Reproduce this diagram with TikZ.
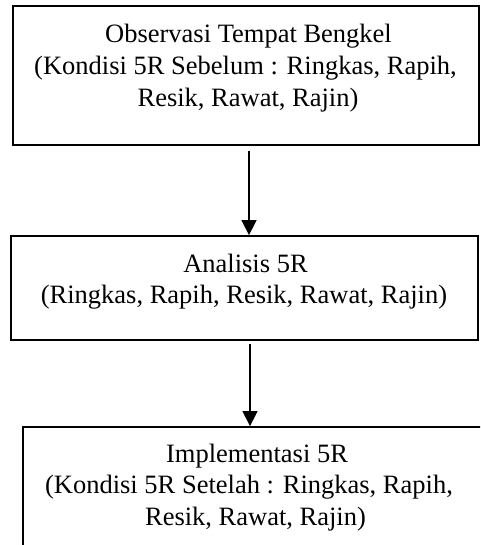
\documentclass[tikz,border=0pt]{standalone}
\usepackage{fontspec}
\setmainfont{Liberation Serif}
\usetikzlibrary{arrows.meta}
\begin{document}
\begin{tikzpicture}[x=1pt,y=-1pt,
  boxstyle/.style={draw=black,line width=1.8pt,fill=white,inner sep=0pt},
  linetext/.style={anchor=base,inner sep=0pt,font=\fontsize{26.5}{32}\selectfont},
  arr/.style={line width=1.5pt,-{Triangle[length=15pt,width=15pt]}}]
\clip (0,0) rectangle (480,545);
\fill[white] (0,0) rectangle (480,545);
% boxes
\node[boxstyle,minimum width=466pt,minimum height=139pt] (b1) at (246,75.5) {};
\node[boxstyle,minimum width=467pt,minimum height=104pt] (b2) at (244.5,288) {};
\node[boxstyle,minimum width=466pt,minimum height=150pt] (b3) at (256,502) {};
% texts
\node[linetext] (t1a) at (248.5,43) {Observasi Tempat Bengkel};
\node[linetext] (t1b) at (245.5,75) {(Kondisi 5R Sebelum : Ringkas, Rapih,};
\node[linetext] (t1c) at (248,107) {Resik, Rawat, Rajin)};
\node[linetext] (t2a) at (245.5,272) {Analisis 5R};
\node[linetext] (t2b) at (244,303) {(Ringkas, Rapih, Resik, Rawat, Rajin)};
\node[linetext] (t3a) at (257,462) {Implementasi 5R};
\node[linetext] (t3b) at (249,493) {(Kondisi 5R Setelah : Ringkas, Rapih,};
\node[linetext] (t3c) at (255.5,525) {Resik, Rawat, Rajin)};
% arrows
\coordinate (a1s) at (249,151);
\coordinate (a2s) at (250,344);
\draw[arr] (a1s) -- (a1s |- b2.north);
\draw[arr] (a2s) -- (a2s |- b3.north);
\end{tikzpicture}
\end{document}
